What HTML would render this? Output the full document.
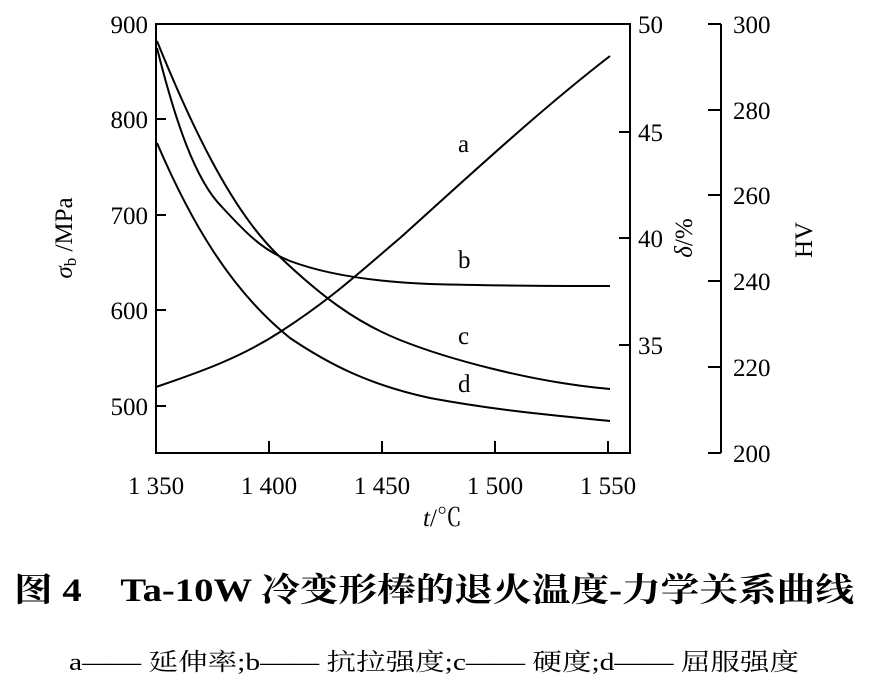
<!DOCTYPE html>
<html><head><meta charset="utf-8"><style>
body{margin:0;background:#fff;width:872px;height:694px;overflow:hidden}
</style></head><body>
<svg width="872" height="694" viewBox="0 0 872 694" xmlns="http://www.w3.org/2000/svg" font-family="Liberation Serif, Noto Serif CJK SC, serif" fill="#000">
<g stroke="#000" stroke-width="2" fill="none">
<rect x="156" y="24" width="474" height="429"/>
<path d="M156 119h10M156 215h10M156 310h10M156 406h10"/>
<path d="M269 453v-12M382 453v-12M495 453v-12M608 453v-12"/>
<path d="M630 132h-11M630 238h-11M630 345h-11"/>
<path d="M721 24v429M708 24h13M708 110h13M708 195h13M708 281h13M708 367h13M708 453h13"/>
</g>
<g stroke="#000" stroke-width="2" fill="none">
<path d="M156 387 C200 372 240 358 280 332 C330 300 360 272 400 238 C470 175 540 110 610 56"/>
<path d="M157 48 C175 120 195 180 222 207 C245 232 262 250 290 261 C330 276 380 282 430 284 C500 286 560 286 610 286"/>
<path d="M157 41 C195 135 235 215 280 257 C320 295 355 322 400 340 S 530 382 610 389"/>
<path d="M157 143 C190 220 230 290 290 338 C330 365 370 385 430 398 C500 411 560 416 610 421"/>
</g>
<g font-size="25">
<text x="148" y="33" text-anchor="end">900</text>
<text x="148" y="128" text-anchor="end">800</text>
<text x="148" y="224" text-anchor="end">700</text>
<text x="148" y="319" text-anchor="end">600</text>
<text x="148" y="415" text-anchor="end">500</text>
<text x="156" y="494" text-anchor="middle">1 350</text>
<text x="269" y="494" text-anchor="middle">1 400</text>
<text x="382" y="494" text-anchor="middle">1 450</text>
<text x="495" y="494" text-anchor="middle">1 500</text>
<text x="608" y="494" text-anchor="middle">1 550</text>
<text x="638" y="33">50</text>
<text x="638" y="141">45</text>
<text x="638" y="247">40</text>
<text x="638" y="354">35</text>
<text x="733" y="33">300</text>
<text x="733" y="119">280</text>
<text x="733" y="204">260</text>
<text x="733" y="290">240</text>
<text x="733" y="376">220</text>
<text x="733" y="462">200</text>
<text x="458" y="152">a</text>
<text x="458" y="268">b</text>
<text x="458" y="344">c</text>
<text x="458" y="392">d</text>
<text x="423" y="526"><tspan font-style="italic">t</tspan>/℃</text>
<text transform="translate(72,238) rotate(-90)" text-anchor="middle"><tspan font-style="italic">σ</tspan><tspan font-size="17" dy="4">b</tspan><tspan dy="-4"> /MPa</tspan></text>
<text transform="translate(692,238) rotate(-90)" text-anchor="middle"><tspan font-style="italic">δ</tspan>/%</text>
<text transform="translate(812,240) rotate(-90)" text-anchor="middle">HV</text>
</g>
<text x="434" y="601" text-anchor="middle" font-size="33" font-weight="bold" textLength="840" lengthAdjust="spacingAndGlyphs">图 4　Ta-10W 冷变形棒的退火温度-力学关系曲线</text>
<text x="434" y="670" text-anchor="middle" font-size="24" textLength="730" lengthAdjust="spacingAndGlyphs">a—— 延伸率;b—— 抗拉强度;c—— 硬度;d—— 屈服强度</text>
</svg>
</body></html>
